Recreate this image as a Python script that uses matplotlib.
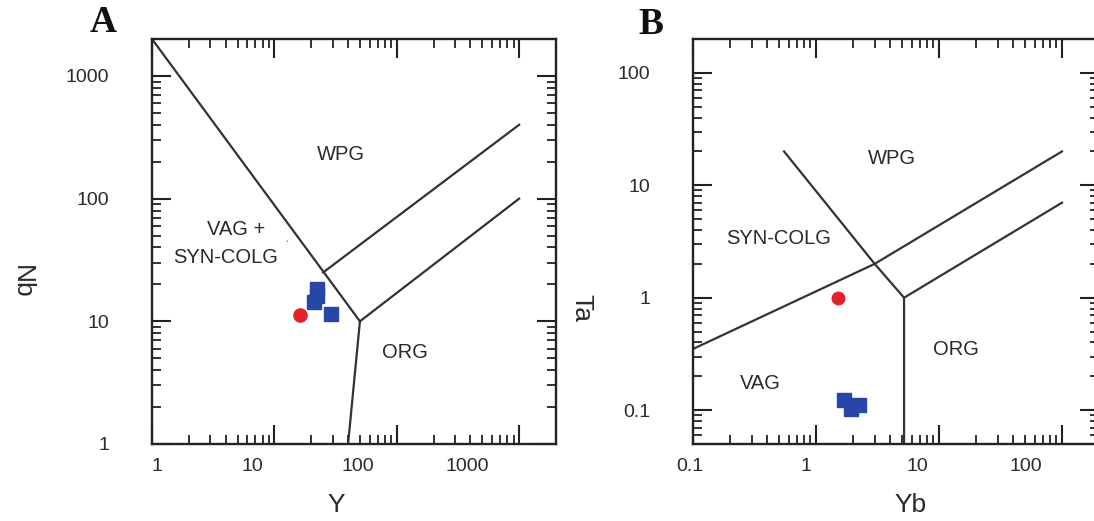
import matplotlib
matplotlib.use("Agg")
import matplotlib.pyplot as plt
from matplotlib.ticker import LogLocator, NullFormatter, FixedLocator, FixedFormatter

# ---------------- data ----------------
# Panel A : Nb vs Y (Pearce et al. 1984)
a_circle_y = [16.3]
a_circle_nb = [11.3]
a_square_y = [22.5, 22.1, 20.9, 28.8]
a_square_nb = [18.2, 16.0, 14.3, 11.4]

a_line1_x = [1, 50, 40]          # VAG+syn-COLG / WPG / ORG
a_line1_y = [2000, 10, 1]
a_line2_x = [50, 1000]           # ORG / WPG lower
a_line2_y = [10, 100]
a_line3_x = [25, 1000]           # WPG / ORG upper
a_line3_y = [25, 400]

a_yticks = [1, 10, 100, 1000]
a_yticklabels = ["1", "10", "100", "1000"]
a_xticks = [1, 10, 100, 1000]
a_xticklabels = ["1", "10", "100", "1000"]

# Panel B : Ta vs Yb
b_circle_yb = [1.5]
b_circle_ta = [0.99]
b_square_yb = [1.69, 2.24, 1.93]
b_square_ta = [0.123, 0.111, 0.102]

b_line1_x = [0.55, 3, 5.2, 5.2]  # WPG / SYN-COLG, VAG / ORG
b_line1_y = [20, 2, 1, 0.05]
b_line2_x = [0.1, 3, 100]        # SYN-COLG / VAG
b_line2_y = [0.35, 2, 20]
b_line3_x = [5.2, 100]           # WPG / ORG
b_line3_y = [1, 7]

b_yticks = [0.1, 1, 10, 100]
b_yticklabels = ["0.1", "1", "10", "100"]
b_xticks = [0.1, 1, 10, 100]
b_xticklabels = ["0.1", "1", "10", "100"]

# positions where the source figure printed its x tick labels (shifted from the ticks)
a_xlabel_pos = [1.1, 6.6, 48, 375]
b_xlabel_pos = [0.095, 0.83, 6.7, 51]

# ---------------- style ----------------
plt.rcParams['font.family'] = ['Liberation Sans', 'DejaVu Sans']
TXT = '#2a2a2a'
LINE = '#333333'
RED = '#e3222b'
BLUE = '#2646a8'

fig = plt.figure(figsize=(10.94, 5.21), dpi=100)
W, H = 1094.0, 521.0
axA = fig.add_axes([152 / W, 77 / H, 404 / W, 405 / H])
axB = fig.add_axes([693 / W, 77 / H, 406 / W, 405 / H])


def style_axis(ax, xlim, ylim, yticks, yticklabels, xticks, xlabel_pos, xticklabels):
    ax.set_xscale('log')
    ax.set_yscale('log')
    ax.set_xlim(*xlim)
    ax.set_ylim(*ylim)
    for s in ax.spines.values():
        s.set_linewidth(1.7)
        s.set_color('#222222')
    ax.xaxis.set_major_locator(FixedLocator(xticks))
    ax.xaxis.set_minor_locator(LogLocator(base=10, subs=range(2, 10), numticks=20))
    ax.yaxis.set_major_locator(FixedLocator(yticks))
    ax.yaxis.set_minor_locator(LogLocator(base=10, subs=range(2, 10), numticks=20))
    ax.xaxis.set_major_formatter(NullFormatter())
    ax.xaxis.set_minor_formatter(NullFormatter())
    ax.yaxis.set_major_formatter(FixedFormatter(yticklabels))
    ax.yaxis.set_minor_formatter(NullFormatter())
    ax.tick_params(which='both', direction='in', top=True, right=True, colors='#222222')
    ax.tick_params(which='major', length=14, width=1.5, labelsize=14, pad=31, labelcolor=TXT)
    ax.tick_params(which='minor', length=6.5, width=1.3)
    for p, t in zip(xlabel_pos, xticklabels):
        ax.text(p, -0.055, t, transform=ax.get_xaxis_transform(), ha='center', va='center',
                fontsize=14, color=TXT)


style_axis(axA, (1, 2000), (1, 2000), a_yticks, a_yticklabels, a_xticks, a_xlabel_pos, a_xticklabels)
style_axis(axB, (0.1, 200), (0.05, 200), b_yticks, b_yticklabels, b_xticks, b_xlabel_pos, b_xticklabels)

# ---- Panel A ----
for xs, ys in [(a_line1_x, a_line1_y), (a_line2_x, a_line2_y), (a_line3_x, a_line3_y)]:
    axA.plot(xs, ys, color=LINE, lw=1.6, solid_joinstyle='miter')
axA.plot(a_square_y, a_square_nb, 's', ms=9.5, color=BLUE, mec=BLUE, ls='none')
axA.plot(a_circle_y, a_circle_nb, 'o', ms=9.5, color=RED, mec=RED, ls='none')

axA.text(35, 228, 'WPG', ha='center', va='center', fontsize=14.5, color=TXT)
axA.text(4.9, 56, 'VAG +', ha='center', va='center', fontsize=14.5, color=TXT)
axA.text(4.0, 33, 'SYN-COLG', ha='center', va='center', fontsize=14.5, color=TXT)
axA.text(12.8, 41, '\u00b4', ha='center', va='center', fontsize=7, color=TXT)
axA.text(116, 5.6, 'ORG', ha='center', va='center', fontsize=14.5, color=TXT)

axA.text(0.455, -0.15, 'Y', transform=axA.transAxes, ha='center', va='center', fontsize=19, color=TXT)
axA.text(-0.322, 0.40, 'Nb', transform=axA.transAxes, ha='center', va='center', fontsize=19,
         color=TXT, rotation=270)
axA.text(-0.12, 1.04, 'A', transform=axA.transAxes, ha='center', va='center', fontsize=27,
         fontweight='bold', family='Liberation Serif', color='#111111')

# ---- Panel B ----
for xs, ys in [(b_line1_x, b_line1_y), (b_line2_x, b_line2_y), (b_line3_x, b_line3_y)]:
    axB.plot(xs, ys, color=LINE, lw=1.6, solid_joinstyle='miter')
axB.plot(b_square_yb, b_square_ta, 's', ms=9.5, color=BLUE, mec=BLUE, ls='none')
axB.plot(b_circle_yb, b_circle_ta, 'o', ms=9.0, color=RED, mec=RED, ls='none')

axB.text(4.15, 17.2, 'WPG', ha='center', va='center', fontsize=14.5, color=TXT)
axB.text(0.50, 3.36, 'SYN-COLG', ha='center', va='center', fontsize=14.5, color=TXT)
axB.text(13.7, 0.348, 'ORG', ha='center', va='center', fontsize=14.5, color=TXT)
axB.text(0.35, 0.174, 'VAG', ha='center', va='center', fontsize=14.5, color=TXT)

axB.text(0.537, -0.15, 'Yb', transform=axB.transAxes, ha='center', va='center', fontsize=19, color=TXT)
axB.text(-0.276, 0.336, 'Ta', transform=axB.transAxes, ha='center', va='center', fontsize=19,
         color=TXT, rotation=270)
axB.text(-0.103, 1.035, 'B', transform=axB.transAxes, ha='center', va='center', fontsize=27,
         fontweight='bold', family='Liberation Serif', color='#111111')

fig.savefig('out.png', dpi=100)
